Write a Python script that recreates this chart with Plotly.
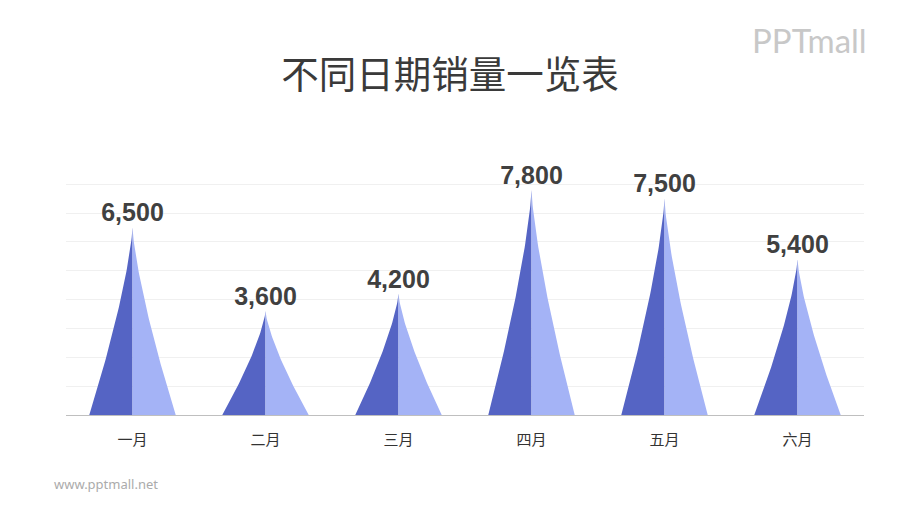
import numpy as np
import plotly.graph_objects as go

# Data
months = ['一月', '二月', '三月', '四月', '五月', '六月']
sales = [6500, 3600, 4200, 7800, 7500, 5400]
y_ticks = list(range(0, 9001, 1000))

dark_blue = '#5564C4'
light_blue = '#A4B3F6'
half_w = 0.325


# spike half: concave edge from base corner up to the peak
def spike_half(center, value, side):
    h = np.linspace(0, 1, 60)                 # fraction of height
    u = 1 - (1 - h) ** 1.35                   # fraction of half width from outer edge
    xs = center + side * half_w * (1 - u)
    ys = value * h
    xs = np.concatenate([xs, [center, xs[0]]])
    ys = np.concatenate([ys, [0, 0]])
    return xs, ys


fig = go.Figure()

for i, v in enumerate(sales):
    for side, color in [(-1, dark_blue), (1, light_blue)]:
        xs, ys = spike_half(i, v, side)
        fig.add_trace(go.Scatter(
            x=xs, y=ys, mode='lines', fill='toself', fillcolor=color,
            line=dict(width=0, color=color), hoverinfo='skip', showlegend=False
        ))

# value labels above each peak
fig.add_trace(go.Scatter(
    x=list(range(len(months))), y=sales, mode='text',
    text=[f'{v:,}' for v in sales], textposition='top center',
    textfont=dict(family='Liberation Sans, Arial', size=25, color='#404040', weight='bold'),
    hoverinfo='skip', showlegend=False
))

fig.update_layout(
    width=900, height=506,
    margin=dict(l=66, r=36, t=155, b=91),
    paper_bgcolor='white', plot_bgcolor='white',
    title=dict(text='不同日期销量一览表', x=0.5, xanchor='center', y=0.852, yanchor='middle',
               font=dict(family='Noto Sans CJK SC', size=37.5, color='#3A3A3A')),
    xaxis=dict(range=[-0.5, 5.5], tickvals=list(range(len(months))), ticktext=months,
               showgrid=False, zeroline=False, showline=True, linecolor='#BFBFBF', linewidth=1,
               ticks='', ticklabelstandoff=11,
               tickfont=dict(family='Noto Sans CJK SC', size=15, color='#333333')),
    yaxis=dict(range=[0, 9010], tickvals=y_ticks, showticklabels=False,
               showgrid=True, gridcolor='#F0F0F0', gridwidth=1, zeroline=False),
    annotations=[
        dict(text='PPTmall', xref='paper', yref='paper', x=1.006, y=1.442, xanchor='right',
             yanchor='middle', showarrow=False,
             font=dict(family='Lato, Noto Sans', size=33, color='#C8C8C8')),
        dict(text='www.pptmall.net', xref='paper', yref='paper', x=-0.018, y=-0.265,
             xanchor='left', yanchor='middle', showarrow=False,
             font=dict(family='Noto Sans', size=13, color='#ABABAB')),
    ],
)

fig.write_html('out.html', config={'displayModeBar': False},
               post_script="document.body.style.margin='0';")
